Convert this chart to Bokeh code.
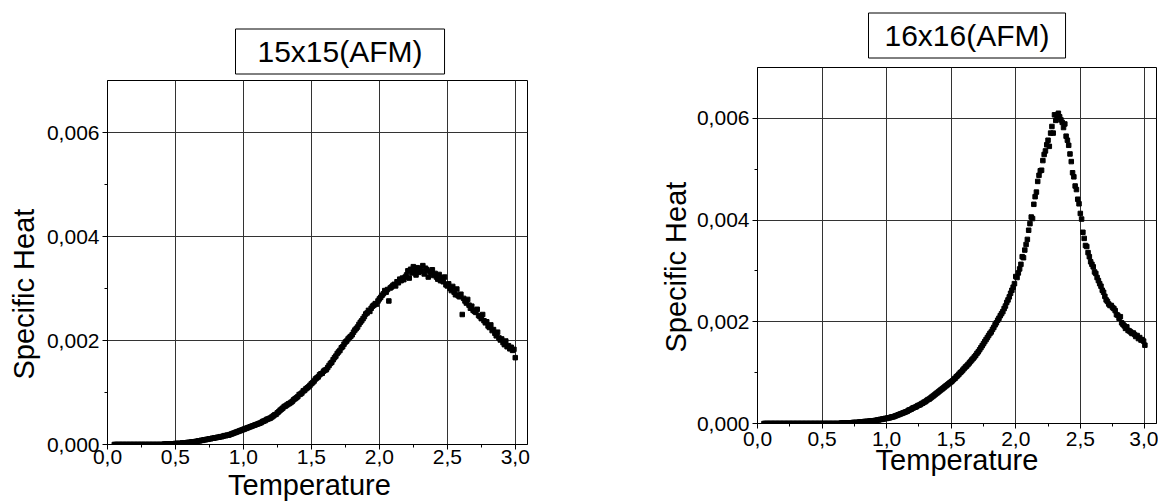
from bokeh.plotting import figure
from bokeh.layouts import row
from bokeh.models import Range1d, FixedTicker, CustomJSTickFormatter, Title
from bokeh.embed import file_html
from bokeh.resources import INLINE

# ---------------- data ----------------
T_START = 0.05
T_STEP = 0.01
N_POINTS = 296
temperature = [round(T_START + i * T_STEP, 2) for i in range(N_POINTS)]

c_15x15 = [
    0.0, 0.0, 0.0, 0.0, 0.0,
    0.0, 0.0, 0.0, 0.0, 0.0, 0.0, 0.0, 0.0, 0.0, 0.0,
    0.0, 0.0, 0.0, 0.0, 0.0, 0.0, 0.0, 0.0, 0.0, 0.0,
    0.0, 0.0, 0.0, 0.0, 0.0, 0.0, 0.0, 0.0, 0.0, 0.0,
    0.0, 0.0, 0.00001, 0.00001, 0.00001, 0.00001, 0.00001, 0.00001, 0.00001, 0.00001,
    0.00002, 0.00002, 0.00002, 0.00002, 0.00002, 0.00003, 0.00003, 0.00003, 0.00003, 0.00004,
    0.00004, 0.00004, 0.00005, 0.00005, 0.00005, 0.00006, 0.00006, 0.00007, 0.00007, 0.00008,
    0.00008, 0.00009, 0.00009, 0.00010, 0.00010, 0.00011, 0.00011, 0.00012, 0.00012, 0.00013,
    0.00013, 0.00014, 0.00014, 0.00015, 0.00015, 0.00016, 0.00017, 0.00017, 0.00018, 0.00018,
    0.00019, 0.00020, 0.00021, 0.00022, 0.00023, 0.00024, 0.00025, 0.00026, 0.00027, 0.00028,
    0.00029, 0.00030, 0.00031, 0.00032, 0.00033, 0.00034, 0.00035, 0.00036, 0.00037, 0.00038,
    0.00039, 0.00040, 0.00041, 0.00042, 0.00044, 0.00045, 0.00046, 0.00048, 0.00049, 0.00050,
    0.00051, 0.00053, 0.00055, 0.00057, 0.00058, 0.00061, 0.00063, 0.00066, 0.00068, 0.00070,
    0.00073, 0.00074, 0.00076, 0.00078, 0.00079, 0.00081, 0.00083, 0.00086, 0.00088, 0.00090,
    0.00092, 0.00096, 0.00097, 0.00099, 0.00103, 0.00104, 0.00107, 0.00109, 0.00111, 0.00114,
    0.00117, 0.00119, 0.00122, 0.00126, 0.00128, 0.00130, 0.00134, 0.00136, 0.00137, 0.00141,
    0.00143, 0.00144, 0.00148, 0.00152, 0.00156, 0.00158, 0.00163, 0.00167, 0.00170, 0.00175,
    0.00178, 0.00181, 0.00186, 0.00188, 0.00193, 0.00197, 0.00199, 0.00203, 0.00206, 0.00208,
    0.00211, 0.00216, 0.00220, 0.00223, 0.00226, 0.00231, 0.00235, 0.00238, 0.00242, 0.00246,
    0.00251, 0.00253, 0.00258, 0.00256, 0.00262, 0.00266, 0.00268, 0.00271, 0.00270, 0.00276,
    0.00280, 0.00283, 0.00287, 0.00290, 0.00296, 0.00293, 0.00298, 0.00276, 0.00301, 0.00303,
    0.00306, 0.00308, 0.00305, 0.00313, 0.00311, 0.00318, 0.00315, 0.00320, 0.00317, 0.00322,
    0.00326, 0.00334, 0.00320, 0.00337, 0.00330, 0.00342, 0.00335, 0.00326, 0.00340, 0.00331,
    0.00338, 0.00333, 0.00344, 0.00328, 0.00339, 0.00336, 0.00322, 0.00333, 0.00331, 0.00336,
    0.00325, 0.00329, 0.00322, 0.00318, 0.00327, 0.00315, 0.00320, 0.00313, 0.00322, 0.00307,
    0.00305, 0.00309, 0.00300, 0.00296, 0.00304, 0.00293, 0.00288, 0.00299, 0.00286, 0.00284,
    0.00289, 0.00250, 0.00281, 0.00276, 0.00272, 0.00279, 0.00268, 0.00262, 0.00266, 0.00258,
    0.00256, 0.00254, 0.00260, 0.00248, 0.00246, 0.00242, 0.00250, 0.00238, 0.00234, 0.00236,
    0.00228, 0.00225, 0.00230, 0.00219, 0.00221, 0.00214, 0.00209, 0.00216, 0.00205, 0.00201,
    0.00203, 0.00196, 0.00192, 0.00199, 0.00188, 0.00190, 0.00184, 0.00187, 0.00181, 0.00183,
    0.00167,
]

c_16x16 = [
    0.0, 0.0, 0.0, 0.0, 0.0,
    0.0, 0.0, 0.0, 0.0, 0.0, 0.0, 0.0, 0.0, 0.0, 0.0,
    0.0, 0.0, 0.0, 0.0, 0.0, 0.0, 0.0, 0.0, 0.0, 0.0,
    0.0, 0.0, 0.0, 0.0, 0.0, 0.0, 0.0, 0.0, 0.0, 0.0,
    0.0, 0.0, 0.0, 0.0, 0.0, 0.0, 0.0, 0.0, 0.0, 0.0,
    0.0, 0.0, 0.0, 0.0, 0.0, 0.0, 0.0, 0.0, 0.0, 0.0,
    0.0, 0.0, 0.0, 0.0, 0.0, 0.00001, 0.00001, 0.00001, 0.00001, 0.00001,
    0.00001, 0.00001, 0.00001, 0.00001, 0.00002, 0.00002, 0.00002, 0.00002, 0.00002, 0.00003,
    0.00003, 0.00003, 0.00003, 0.00004, 0.00004, 0.00004, 0.00004, 0.00005, 0.00005, 0.00005,
    0.00005, 0.00006, 0.00006, 0.00007, 0.00007, 0.00008, 0.00008, 0.00009, 0.00009, 0.00010,
    0.00010, 0.00011, 0.00011, 0.00012, 0.00013, 0.00013, 0.00014, 0.00015, 0.00016, 0.00017,
    0.00018, 0.00019, 0.00020, 0.00021, 0.00022, 0.00023, 0.00024, 0.00026, 0.00027, 0.00028,
    0.00030, 0.00031, 0.00032, 0.00033, 0.00035, 0.00036, 0.00037, 0.00039, 0.00040, 0.00042,
    0.00043, 0.00045, 0.00047, 0.00048, 0.00050, 0.00052, 0.00054, 0.00056, 0.00058, 0.00060,
    0.00062, 0.00064, 0.00066, 0.00068, 0.00070, 0.00072, 0.00074, 0.00076, 0.00078, 0.00080,
    0.00082, 0.00084, 0.00087, 0.00089, 0.00092, 0.00094, 0.00097, 0.00100, 0.00102, 0.00105,
    0.00108, 0.00111, 0.00113, 0.00116, 0.00119, 0.00122, 0.00125, 0.00128, 0.00131, 0.00134,
    0.00138, 0.00141, 0.00145, 0.00149, 0.00153, 0.00157, 0.00161, 0.00165, 0.00169, 0.00173,
    0.00177, 0.00180, 0.00185, 0.00189, 0.00194, 0.00198, 0.00203, 0.00207, 0.00212, 0.00216,
    0.00220, 0.00226, 0.00231, 0.00238, 0.00243, 0.00249, 0.00256, 0.00262, 0.00268, 0.00275,
    0.00289, 0.00287, 0.00296, 0.00304, 0.00313, 0.00328, 0.00326, 0.00341, 0.00352, 0.00362,
    0.00380, 0.00393, 0.00406, 0.00403, 0.00431, 0.00446, 0.00455, 0.00476, 0.00488, 0.00497,
    0.00498, 0.00517, 0.00529, 0.00536, 0.00548, 0.00557, 0.00545, 0.00571, 0.00584, 0.00571,
    0.00607, 0.00596, 0.00602, 0.00610, 0.00603, 0.00597, 0.00592, 0.00582, 0.00589, 0.00565,
    0.00557, 0.00547, 0.00530, 0.00515, 0.00493, 0.00485, 0.00467, 0.00460, 0.00441, 0.00432,
    0.00413, 0.00402, 0.00376, 0.00364, 0.00350, 0.00348, 0.00336, 0.00328, 0.00318, 0.00313,
    0.00308, 0.00298, 0.00295, 0.00287, 0.00281, 0.00275, 0.00270, 0.00262, 0.00258, 0.00250,
    0.00243, 0.00240, 0.00235, 0.00232, 0.00232, 0.00228, 0.00226, 0.00222, 0.00214, 0.00213,
    0.00207, 0.00210, 0.00198, 0.00195, 0.00192, 0.00187, 0.00190, 0.00183, 0.00182, 0.00180,
    0.00177, 0.00178, 0.00175, 0.00171, 0.00173, 0.00167, 0.00169, 0.00164, 0.00165, 0.00162,
    0.00154,
]

panel_titles = ["15x15(AFM)", "16x16(AFM)"]
x_label = "Temperature"
y_label = "Specific Heat"
x_major = [0.0, 0.5, 1.0, 1.5, 2.0, 2.5, 3.0]
x_minor = [0.25, 0.75, 1.25, 1.75, 2.25, 2.75]
y_major = [0.0, 0.002, 0.004, 0.006]
y_minor = [0.001, 0.003, 0.005]

FONT = "Liberation Sans"
NBSP = "\u00a0"


def make_panel(title, values, width, height, mb, x_std, xlab_text, xlab_std,
               t_offset, t_pad, t_standoff, y_offset, y_standoff):
    p = figure(width=width, height=height, output_backend="svg", toolbar_location=None,
               x_range=Range1d(0, 3.09), y_range=Range1d(0, 0.007),
               min_border_left=mb[0], min_border_right=mb[1],
               min_border_top=mb[2], min_border_bottom=mb[3],
               background_fill_color="white", border_fill_color="white")
    p.frame_align = False
    p.outline_line_color = "black"
    p.outline_line_width = 1

    # boxed panel title
    p.title.text = title
    p.title.text_font = FONT
    p.title.text_font_size = "30px"
    p.title.text_font_style = "normal"
    p.title.text_color = "black"
    p.title.align = "left"
    p.title.offset = t_offset
    p.title.standoff = t_standoff
    p.title.border_line_color = "black"
    p.title.border_line_width = 1
    p.title.background_fill_color = "white"
    p.title.padding = t_pad

    p.xaxis.ticker = FixedTicker(ticks=x_major, minor_ticks=x_minor)
    p.yaxis.ticker = FixedTicker(ticks=y_major, minor_ticks=y_minor)
    p.xaxis.formatter = CustomJSTickFormatter(code="return tick.toFixed(1).replace('.', ',');")
    p.yaxis.formatter = CustomJSTickFormatter(code="return tick.toFixed(3).replace('.', ',');")
    for ax in (p.xaxis, p.yaxis):
        ax.axis_line_color = "black"
        ax.axis_line_width = 1
        ax.major_tick_line_color = "black"
        ax.minor_tick_line_color = "black"
        ax.major_tick_in = 0
        ax.major_tick_out = 5
        ax.minor_tick_in = 0
        ax.minor_tick_out = 3
        ax.major_label_text_font = FONT
        ax.major_label_text_font_size = "21px"
        ax.major_label_text_color = "black"
    p.xaxis.major_label_standoff = x_std
    p.yaxis.major_label_standoff = 3

    p.xaxis.axis_label = xlab_text
    p.xaxis.axis_label_text_font = FONT
    p.xaxis.axis_label_text_font_size = "29px"
    p.xaxis.axis_label_text_font_style = "normal"
    p.xaxis.axis_label_text_color = "black"
    p.xaxis.axis_label_standoff = xlab_std

    p.add_layout(Title(text=y_label, align="left", offset=y_offset, standoff=y_standoff,
                       text_font=FONT, text_font_size="29px", text_font_style="normal",
                       text_color="black"), "left")

    p.xgrid.ticker = FixedTicker(ticks=x_major)
    p.ygrid.ticker = FixedTicker(ticks=y_major)
    p.grid.grid_line_color = "#333333"
    p.grid.grid_line_width = 1
    p.grid.grid_line_alpha = 1.0

    p.scatter(temperature, values, marker="square", size=4.5,
              fill_color="black", line_color="black")
    return p


p1 = make_panel(panel_titles[0], c_15x15, 600, 503, (107, 73, 80, 58), 0,
                x_label + NBSP + NBSP, 2, 128, (22, 6), 13, 65, 8)
p2 = make_panel(panel_titles[1], c_16x16, 558, 503, (157, 2, 67, 80), 3,
                x_label, -5, 111, (16, 6), 19, 71, 4)

layout = row(p1, p2)
open("out.html", "w").write(file_html(layout, INLINE))
